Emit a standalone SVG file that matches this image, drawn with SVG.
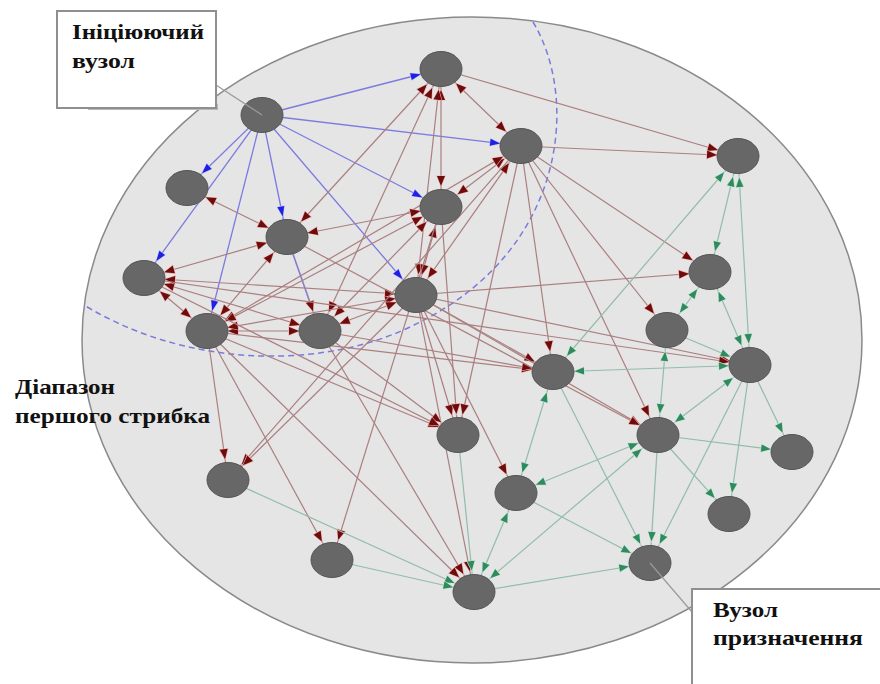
<svg xmlns="http://www.w3.org/2000/svg" width="880" height="684" viewBox="0 0 880 684">
<style>
.r,.r2,.rb{stroke:#ab7f7f;stroke-width:1.2;fill:none;marker-end:url(#ar)}
.r2{marker-start:url(#ar)}
.rb{stroke:#8a7ccc;stroke-width:1.6}
.g,.g2{stroke:#92bcab;stroke-width:1.2;fill:none;marker-end:url(#ag)}
.g2{marker-start:url(#ag)}
.b{stroke:#7b7be0;stroke-width:1.3;fill:none;marker-end:url(#ab)}
.node ellipse{fill:#676767;stroke:#555555;stroke-width:1}
.lbl{font-family:"Liberation Serif","Times New Roman",serif;font-weight:bold;font-size:21px;fill:#111111}
.leader{stroke:#9a9a9a;stroke-width:1.2}
.box{fill:#ffffff;stroke:#8f8f8f;stroke-width:2}
</style>
<defs>
<marker id="ar" viewBox="-2 -2 14 12" markerWidth="14" markerHeight="12" refX="31" refY="4" orient="auto-start-reverse" markerUnits="userSpaceOnUse">
<path d="M0,0 L10,4 L0,8 Z" fill="#6e0c0c" stroke="#f2b4b4" stroke-width="1.2" paint-order="stroke"/>
</marker>
<marker id="ag" viewBox="-2 -2 14 12" markerWidth="14" markerHeight="12" refX="31" refY="4" orient="auto-start-reverse" markerUnits="userSpaceOnUse">
<path d="M0,0.3 L9.5,4 L0,7.7 Z" fill="#2f8a5e" stroke="#c4e6d4" stroke-width="1.2" paint-order="stroke"/>
</marker>
<marker id="ab" viewBox="-2 -2 14 12" markerWidth="14" markerHeight="12" refX="31" refY="4" orient="auto" markerUnits="userSpaceOnUse">
<path d="M0,0.5 L10,4 L0,7.5 Z" fill="#1f1fe6" stroke="#c0c0f4" stroke-width="1" paint-order="stroke"/>
</marker>
</defs>
<rect width="880" height="684" fill="#ffffff"/>
<g id="range">
<ellipse cx="472" cy="340" rx="390" ry="323" fill="#e5e5e5" stroke="#8a8a8a" stroke-width="1.5"/>
<path d="M533 22 C580 100, 565 250, 420 322 C330 370, 190 370, 84 305" fill="none" stroke="#7b7bdc" stroke-width="1.5" stroke-dasharray="6 4"/>
</g>
<g id="connectors">
<line class="b" x1="262" y1="115" x2="441" y2="69"/>
<line class="b" x1="262" y1="115" x2="521" y2="146"/>
<line class="b" x1="262" y1="115" x2="441" y2="207"/>
<line class="b" x1="262" y1="115" x2="416" y2="295"/>
<line class="b" x1="262" y1="115" x2="287" y2="237"/>
<line class="b" x1="262" y1="115" x2="187" y2="188"/>
<line class="b" x1="262" y1="115" x2="144" y2="278"/>
<line class="b" x1="262" y1="115" x2="207" y2="331"/>
<line class="rb" x1="287" y1="237" x2="320" y2="331"/>
<line class="r2" x1="441" y1="69" x2="521" y2="146"/>
<line class="r2" x1="441" y1="69" x2="441" y2="207"/>
<line class="r2" x1="441" y1="69" x2="287" y2="237"/>
<line class="r2" x1="441" y1="69" x2="416" y2="295"/>
<line class="r2" x1="441" y1="69" x2="320" y2="331"/>
<line class="r2" x1="521" y1="146" x2="441" y2="207"/>
<line class="r2" x1="521" y1="146" x2="416" y2="295"/>
<line class="r2" x1="521" y1="146" x2="207" y2="331"/>
<line class="r2" x1="187" y1="188" x2="287" y2="237"/>
<line class="r2" x1="287" y1="237" x2="441" y2="207"/>
<line class="r2" x1="287" y1="237" x2="144" y2="278"/>
<line class="r2" x1="287" y1="237" x2="207" y2="331"/>
<line class="r2" x1="441" y1="207" x2="416" y2="295"/>
<line class="r2" x1="441" y1="207" x2="207" y2="331"/>
<line class="r2" x1="441" y1="207" x2="320" y2="331"/>
<line class="r2" x1="144" y1="278" x2="207" y2="331"/>
<line class="r2" x1="144" y1="278" x2="320" y2="331"/>
<line class="r2" x1="144" y1="278" x2="416" y2="295"/>
<line class="r2" x1="207" y1="331" x2="320" y2="331"/>
<line class="r2" x1="207" y1="331" x2="416" y2="295"/>
<line class="r2" x1="320" y1="331" x2="416" y2="295"/>
<line class="r" x1="441" y1="69" x2="738" y2="156"/>
<line class="r" x1="521" y1="146" x2="738" y2="156"/>
<line class="r" x1="521" y1="146" x2="710" y2="272"/>
<line class="r" x1="521" y1="146" x2="667" y2="330"/>
<line class="r" x1="521" y1="146" x2="553" y2="372"/>
<line class="r" x1="521" y1="146" x2="658" y2="435"/>
<line class="r" x1="521" y1="146" x2="458" y2="435"/>
<line class="r" x1="521" y1="146" x2="228" y2="480"/>
<line class="r" x1="416" y1="295" x2="710" y2="272"/>
<line class="r" x1="416" y1="295" x2="553" y2="372"/>
<line class="r" x1="416" y1="295" x2="750" y2="365"/>
<line class="r" x1="416" y1="295" x2="458" y2="435"/>
<line class="r" x1="416" y1="295" x2="658" y2="435"/>
<line class="r" x1="416" y1="295" x2="516" y2="493"/>
<line class="r" x1="416" y1="295" x2="474" y2="592"/>
<line class="r" x1="416" y1="295" x2="228" y2="480"/>
<line class="r" x1="207" y1="331" x2="228" y2="480"/>
<line class="r" x1="207" y1="331" x2="332" y2="560"/>
<line class="r" x1="207" y1="331" x2="474" y2="592"/>
<line class="r" x1="207" y1="331" x2="458" y2="435"/>
<line class="r" x1="207" y1="331" x2="553" y2="372"/>
<line class="r" x1="320" y1="331" x2="458" y2="435"/>
<line class="r" x1="320" y1="331" x2="474" y2="592"/>
<line class="r" x1="320" y1="331" x2="553" y2="372"/>
<line class="r" x1="144" y1="278" x2="458" y2="435"/>
<line class="r" x1="144" y1="278" x2="750" y2="365"/>
<line class="r" x1="441" y1="207" x2="458" y2="435"/>
<line class="r" x1="441" y1="207" x2="332" y2="560"/>
<line class="r" x1="287" y1="237" x2="658" y2="435"/>
<line class="g2" x1="738" y1="156" x2="710" y2="272"/>
<line class="g2" x1="738" y1="156" x2="750" y2="365"/>
<line class="g2" x1="738" y1="156" x2="553" y2="372"/>
<line class="g2" x1="710" y1="272" x2="667" y2="330"/>
<line class="g2" x1="710" y1="272" x2="750" y2="365"/>
<line class="g2" x1="667" y1="330" x2="658" y2="435"/>
<line class="g2" x1="553" y1="372" x2="750" y2="365"/>
<line class="g2" x1="553" y1="372" x2="516" y2="493"/>
<line class="g2" x1="658" y1="435" x2="516" y2="493"/>
<line class="g2" x1="658" y1="435" x2="474" y2="592"/>
<line class="g2" x1="658" y1="435" x2="750" y2="365"/>
<line class="g2" x1="516" y1="493" x2="474" y2="592"/>
<line class="g" x1="667" y1="330" x2="750" y2="365"/>
<line class="g" x1="553" y1="372" x2="650" y2="563"/>
<line class="g" x1="658" y1="435" x2="650" y2="563"/>
<line class="g" x1="750" y1="365" x2="650" y2="563"/>
<line class="g" x1="658" y1="435" x2="792" y2="452"/>
<line class="g" x1="658" y1="435" x2="729" y2="514"/>
<line class="g" x1="750" y1="365" x2="792" y2="452"/>
<line class="g" x1="750" y1="365" x2="729" y2="514"/>
<line class="g" x1="228" y1="480" x2="474" y2="592"/>
<line class="g" x1="332" y1="560" x2="474" y2="592"/>
<line class="g" x1="474" y1="592" x2="650" y2="563"/>
<line class="g" x1="516" y1="493" x2="650" y2="563"/>
<line class="g" x1="458" y1="435" x2="474" y2="592"/>
</g>
<g id="node-A" class="node"><ellipse cx="262" cy="115" rx="21" ry="17.5"/></g>
<g id="node-B" class="node"><ellipse cx="441" cy="69" rx="21" ry="17.5"/></g>
<g id="node-C" class="node"><ellipse cx="521" cy="146" rx="21" ry="17.5"/></g>
<g id="node-D" class="node"><ellipse cx="187" cy="188" rx="21" ry="17.5"/></g>
<g id="node-E" class="node"><ellipse cx="287" cy="237" rx="21" ry="17.5"/></g>
<g id="node-F" class="node"><ellipse cx="441" cy="207" rx="21" ry="17.5"/></g>
<g id="node-G" class="node"><ellipse cx="144" cy="278" rx="21" ry="17.5"/></g>
<g id="node-H" class="node"><ellipse cx="416" cy="295" rx="21" ry="17.5"/></g>
<g id="node-I" class="node"><ellipse cx="207" cy="331" rx="21" ry="17.5"/></g>
<g id="node-J" class="node"><ellipse cx="320" cy="331" rx="21" ry="17.5"/></g>
<g id="node-K" class="node"><ellipse cx="738" cy="156" rx="21" ry="17.5"/></g>
<g id="node-L" class="node"><ellipse cx="710" cy="272" rx="21" ry="17.5"/></g>
<g id="node-M" class="node"><ellipse cx="667" cy="330" rx="21" ry="17.5"/></g>
<g id="node-N" class="node"><ellipse cx="553" cy="372" rx="21" ry="17.5"/></g>
<g id="node-O" class="node"><ellipse cx="750" cy="365" rx="21" ry="17.5"/></g>
<g id="node-P" class="node"><ellipse cx="458" cy="435" rx="21" ry="17.5"/></g>
<g id="node-Q" class="node"><ellipse cx="658" cy="435" rx="21" ry="17.5"/></g>
<g id="node-R" class="node"><ellipse cx="792" cy="452" rx="21" ry="17.5"/></g>
<g id="node-S" class="node"><ellipse cx="228" cy="480" rx="21" ry="17.5"/></g>
<g id="node-T" class="node"><ellipse cx="516" cy="493" rx="21" ry="17.5"/></g>
<g id="node-U" class="node"><ellipse cx="729" cy="514" rx="21" ry="17.5"/></g>
<g id="node-V" class="node"><ellipse cx="332" cy="560" rx="21" ry="17.5"/></g>
<g id="node-W" class="node"><ellipse cx="474" cy="592" rx="21" ry="17.5"/></g>
<g id="node-X" class="node"><ellipse cx="650" cy="563" rx="21" ry="17.5"/></g>
<g id="label-start">
<line class="leader" x1="262" y1="115" x2="216" y2="85"/>
<rect x="88" y="104" width="130" height="6" fill="#b8b8b8"/>
<rect class="box" x="57" y="11" width="159" height="97"/>
<text class="lbl" x="72" y="39" textLength="132" lengthAdjust="spacingAndGlyphs">Ініціюючий</text>
<text class="lbl" x="72" y="68" textLength="63" lengthAdjust="spacingAndGlyphs">вузол</text>
</g>
<g id="label-range">
<text class="lbl" x="15" y="394" textLength="100" lengthAdjust="spacingAndGlyphs">Діапазон</text>
<text class="lbl" x="15" y="423" textLength="195" lengthAdjust="spacingAndGlyphs">першого стрибка</text>
</g>
<g id="label-dest">
<line class="leader" x1="650" y1="563" x2="692" y2="612"/>
<rect class="box" x="692" y="589" width="200" height="110"/>
<text class="lbl" x="713" y="617" textLength="65" lengthAdjust="spacingAndGlyphs">Вузол</text>
<text class="lbl" x="713" y="645" textLength="150" lengthAdjust="spacingAndGlyphs">призначення</text>
</g>
</svg>
